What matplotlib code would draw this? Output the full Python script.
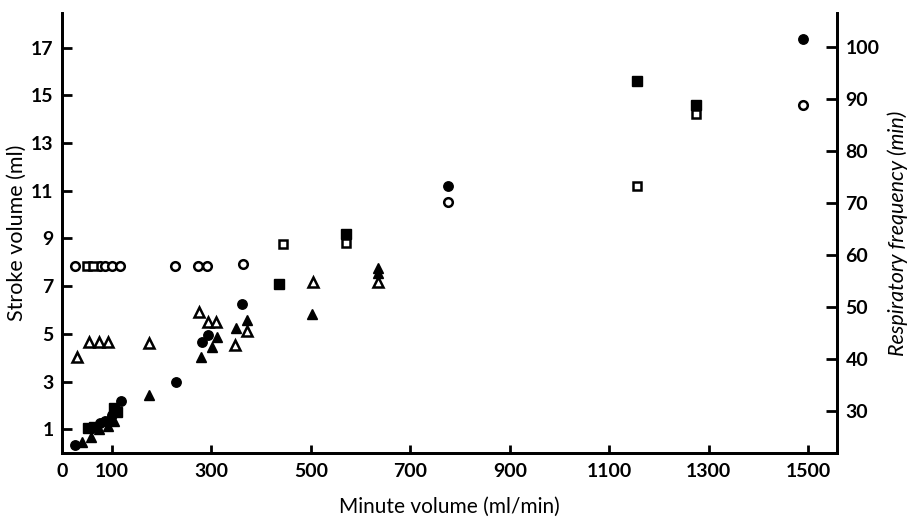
import matplotlib.pyplot as plt

# minute volume (ml/min) and stroke volume (ml) -- filled symbols, left axis
fc_x = [26, 76, 86, 100, 118, 229, 281, 293, 362, 775, 1490]
fc_y = [0.33, 1.25, 1.35, 1.6, 2.2, 2.98, 4.65, 4.95, 6.24, 11.2, 17.35]

fs_x = [52, 65, 105, 110, 436, 570, 1155, 1275]
fs_y = [1.05, 1.1, 1.9, 1.72, 7.1, 9.2, 15.6, 14.6]

ft_x = [40, 58, 74, 92, 95, 105, 175, 279, 301, 311, 349, 371, 502, 635, 635]
ft_y = [0.45, 0.68, 1.0, 1.15, 1.45, 1.35, 2.43, 4.03, 4.45, 4.86, 5.24, 5.6, 5.85, 7.55, 7.75]

# respiratory frequency (/min) -- open symbols, right axis
oc_x = [26, 76, 86, 100, 117, 226, 273, 291, 364, 775, 1490]
oc_y = [57.9, 57.9, 57.9, 57.9, 57.9, 57.9, 57.9, 57.9, 58.3, 70.1, 88.9]

os_x = [50, 62, 445, 570, 1155, 1275]
os_y = [57.9, 57.9, 62.1, 62.3, 73.3, 87.1]

ot_x = [30, 54, 74, 92, 175, 275, 293, 310, 348, 371, 505, 635]
ot_y = [40.4, 43.3, 43.3, 43.3, 43.0, 49.0, 47.1, 47.1, 42.7, 45.3, 54.9, 54.9]

plt.rcParams['font.family'] = ['Lato', 'DejaVu Sans']

fig = plt.figure(figsize=(9.13, 5.19), dpi=100)
ax = fig.add_axes([0.068, 0.127, 0.849, 0.848])
ax2 = ax.twinx()

ms = 6.8
ax.plot(fc_x, fc_y, 'o', color='black', ms=ms)
ax.plot(fs_x, fs_y, 's', color='black', ms=ms)
ax.plot(ft_x, ft_y, '^', color='black', ms=ms + 0.5)
ax2.plot(oc_x, oc_y, 'o', mfc='white', mec='black', mew=1.8, ms=ms - 0.6)
ax2.plot(os_x, os_y, 's', mfc='white', mec='black', mew=1.8, ms=ms - 0.6)
ax2.plot(ot_x, ot_y, '^', mfc='white', mec='black', mew=1.8, ms=ms)

ax.set_xlim(0, 1558)
ax.set_ylim(0, 18.45)
ax2.set_ylim(21.9, 106.55)

ax.set_xticks([0, 100, 300, 500, 700, 900, 1100, 1300, 1500])
ax.set_yticks([1, 3, 5, 7, 9, 11, 13, 15, 17])
ax2.set_yticks([30, 40, 50, 60, 70, 80, 90, 100])

for a in (ax, ax2):
    a.spines['top'].set_visible(False)
    for s in a.spines.values():
        s.set_linewidth(2)
ax.tick_params(axis='both', direction='in', length=7, width=2, labelsize=14, pad=6)
ax.tick_params(axis='x', length=6, pad=7)
ax2.tick_params(axis='y', direction='in', length=8, width=2, labelsize=14, pad=6)
ax.xaxis.get_major_ticks()[0].tick1line.set_visible(False)

for lab in ax.get_xticklabels() + ax.get_yticklabels() + ax2.get_yticklabels():
    lab.set_fontweight('bold')

ax.set_xlabel('Minute volume (ml/min)', fontsize=15, labelpad=12)
ax.set_ylabel('Stroke volume (ml)', fontsize=15.5, labelpad=3)
ax2.set_ylabel('Respiratory frequency (min)', fontsize=15.5, style='italic', labelpad=6)

plt.savefig('out.png', dpi=100)
